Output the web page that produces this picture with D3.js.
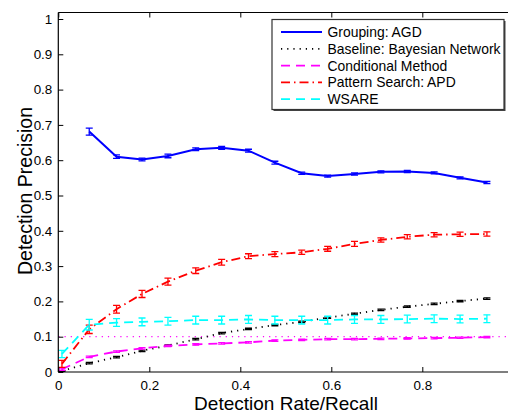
<!DOCTYPE html>
<html><head><meta charset="utf-8">
<script src="https://cdn.jsdelivr.net/npm/d3@7"></script>
<style>
html,body{margin:0;padding:0;background:#fff;}
svg{display:block;font-family:"Liberation Sans",Arial,Helvetica,sans-serif;}
</style></head>
<body><svg id="c" width="508" height="413"></svg>
<script>
// ---- data ----
const recallFull = [0.008,0.068,0.128,0.184,0.241,0.302,0.359,0.418,0.476,0.535,0.592,0.651,0.709,0.767,0.826,0.883,0.942];
const recallGrouping = [0.068,0.128,0.184,0.241,0.302,0.359,0.418,0.476,0.535,0.592,0.651,0.709,0.767,0.826,0.883,0.942];
const groupingAGD = [0.681,0.610,0.602,0.612,0.631,0.635,0.627,0.593,0.563,0.555,0.561,0.567,0.568,0.564,0.550,0.537];
const groupingErr = [0.010,0.005,0.004,0.005,0.004,0.004,0.004,0.004,0.003,0.003,0.003,0.003,0.003,0.003,0.003,0.003];
const baselineBN = [0.003,0.025,0.042,0.060,0.075,0.093,0.110,0.122,0.133,0.142,0.154,0.165,0.176,0.185,0.193,0.201,0.208];
const baselineErr = [0.001,0.002,0.002,0.002,0.002,0.002,0.002,0.002,0.002,0.002,0.002,0.002,0.002,0.002,0.002,0.002,0.002];
const conditional = [0.008,0.043,0.058,0.067,0.074,0.078,0.081,0.084,0.089,0.091,0.093,0.093,0.094,0.095,0.096,0.097,0.099];
const conditionalErr = [0.003,0.002,0.002,0.002,0.002,0.002,0.002,0.002,0.002,0.002,0.002,0.002,0.002,0.002,0.002,0.002,0.002];
const patternAPD = [0.023,0.121,0.178,0.221,0.256,0.287,0.311,0.328,0.334,0.339,0.349,0.363,0.374,0.383,0.389,0.390,0.391];
const patternErr = [0.010,0.012,0.011,0.010,0.010,0.008,0.008,0.007,0.007,0.006,0.007,0.007,0.006,0.006,0.006,0.006,0.006];
const wsare = [0.051,0.134,0.140,0.142,0.144,0.147,0.147,0.149,0.147,0.147,0.147,0.149,0.149,0.150,0.151,0.150,0.151];
const wsareErr = [0.010,0.015,0.011,0.011,0.011,0.011,0.011,0.011,0.011,0.011,0.011,0.011,0.011,0.011,0.011,0.011,0.011];
const referenceLevel = 0.1;
const xTicks = [0,0.2,0.4,0.6,0.8];
const yTicks = [0,0.1,0.2,0.3,0.4,0.5,0.6,0.7,0.8,0.9,1];
const legendLabels = ["Grouping: AGD","Baseline: Bayesian Network","Conditional Method","Pattern Search: APD","WSARE"];

// ---- layout ----
const svg = d3.select("#c");
const x = d3.scaleLinear().domain([0,1]).range([58.3,513.3]);
const y = d3.scaleLinear().domain([0,1]).range([372,19]);
const yTop = 12.5;

const series = [
  {xs:recallGrouping, ys:groupingAGD, err:groupingErr, color:"#0000ff", dash:null},
  {xs:recallFull, ys:baselineBN, err:baselineErr, color:"#000000", dash:"1.2,5"},
  {xs:recallFull, ys:conditional, err:conditionalErr, color:"#ff00ff", dash:"9,6"},
  {xs:recallFull, ys:patternAPD, err:patternErr, color:"#ff0000", dash:"9,4,1.5,4"},
  {xs:recallFull, ys:wsare, err:wsareErr, color:"#00ffff", dash:"9,6"}
];

svg.append("clipPath").attr("id","plot").append("rect")
  .attr("x",58).attr("y",yTop).attr("width",460).attr("height",372-yTop);

const g = svg.append("g").attr("clip-path","url(#plot)");

// reference dotted line at 0.1
g.append("line").attr("x1",x(0)).attr("x2",x(1.1))
  .attr("y1",y(referenceLevel)).attr("y2",y(referenceLevel))
  .attr("stroke","#ff00ff").attr("stroke-width",1.3).attr("stroke-dasharray","1.2,5");

const line = d3.line().x(d=>x(d[0])).y(d=>y(d[1]));
series.forEach(s=>{
  const pts = s.xs.map((v,i)=>[v,s.ys[i],s.err[i]]);
  g.append("path").attr("d",line(pts)).attr("fill","none")
    .attr("stroke",s.color).attr("stroke-width",s.dash?1.8:2)
    .attr("stroke-dasharray",s.dash);
  const eb = g.append("g").attr("stroke",s.color).attr("stroke-width",1.3).attr("fill","none");
  pts.forEach(p=>{
    const cx=x(p[0]), y1=y(p[1]-p[2]), y2=y(p[1]+p[2]);
    eb.append("line").attr("x1",cx).attr("x2",cx).attr("y1",y1).attr("y2",y2);
    eb.append("line").attr("x1",cx-3.5).attr("x2",cx+3.5).attr("y1",y1).attr("y2",y1);
    eb.append("line").attr("x1",cx-3.5).attr("x2",cx+3.5).attr("y1",y2).attr("y2",y2);
  });
});

// axes frame
const ax = svg.append("g").attr("stroke","#000").attr("stroke-width",1.2);
ax.append("line").attr("x1",x(0)).attr("x2",508).attr("y1",372).attr("y2",372);
ax.append("line").attr("x1",x(0)).attr("x2",508).attr("y1",yTop).attr("y2",yTop);
ax.append("line").attr("x1",x(0)).attr("x2",x(0)).attr("y1",yTop).attr("y2",372);

// ticks (inward)
const gx = svg.append("g").attr("transform","translate(0,372)")
  .call(d3.axisBottom(x).tickValues(xTicks).tickSize(-5).tickPadding(8).tickFormat(d3.format("~g")));
const gxT = svg.append("g").attr("transform",`translate(0,${yTop})`)
  .call(d3.axisTop(x).tickValues(xTicks).tickSize(-5).tickFormat(""));
const gy = svg.append("g").attr("transform",`translate(${x(0)},0)`)
  .call(d3.axisLeft(y).tickValues(yTicks).tickSize(-5).tickPadding(6).tickFormat(d3.format("~g")));
[gx,gxT,gy].forEach(a=>{
  a.select(".domain").remove();
  a.selectAll(".tick line").attr("stroke","#000").attr("stroke-width",1);
  a.selectAll("text").attr("font-size",13.4).attr("fill","#000").attr("font-family","Liberation Sans, Arial, sans-serif");
});

// axis labels
svg.append("text").attr("x",286).attr("y",409.5).attr("text-anchor","middle")
  .attr("font-size",19).text("Detection Rate/Recall");
svg.append("text").attr("transform","translate(32,191) rotate(-90)").attr("text-anchor","middle")
  .attr("font-size",19.5).text("Detection Precision");

// legend
const lx=272, ly=19.5, lw=232, lh=90;
svg.append("rect").attr("x",lx+1.5).attr("y",ly+1.5).attr("width",lw).attr("height",lh).attr("fill","#444");
svg.append("rect").attr("x",lx).attr("y",ly).attr("width",lw).attr("height",lh)
  .attr("fill","#fff").attr("stroke","#333").attr("stroke-width",1.2);
legendLabels.forEach((lab,i)=>{
  const yy = ly + 12.5 + i*16.8;
  const s = series[i];
  svg.append("line").attr("x1",281).attr("x2",322).attr("y1",yy).attr("y2",yy)
    .attr("stroke",s.color).attr("stroke-width",s.dash?1.8:2).attr("stroke-dasharray",s.dash);
  svg.append("text").attr("x",327.5).attr("y",yy+5).attr("font-size",13.9).text(lab);
});
</script></body></html>
